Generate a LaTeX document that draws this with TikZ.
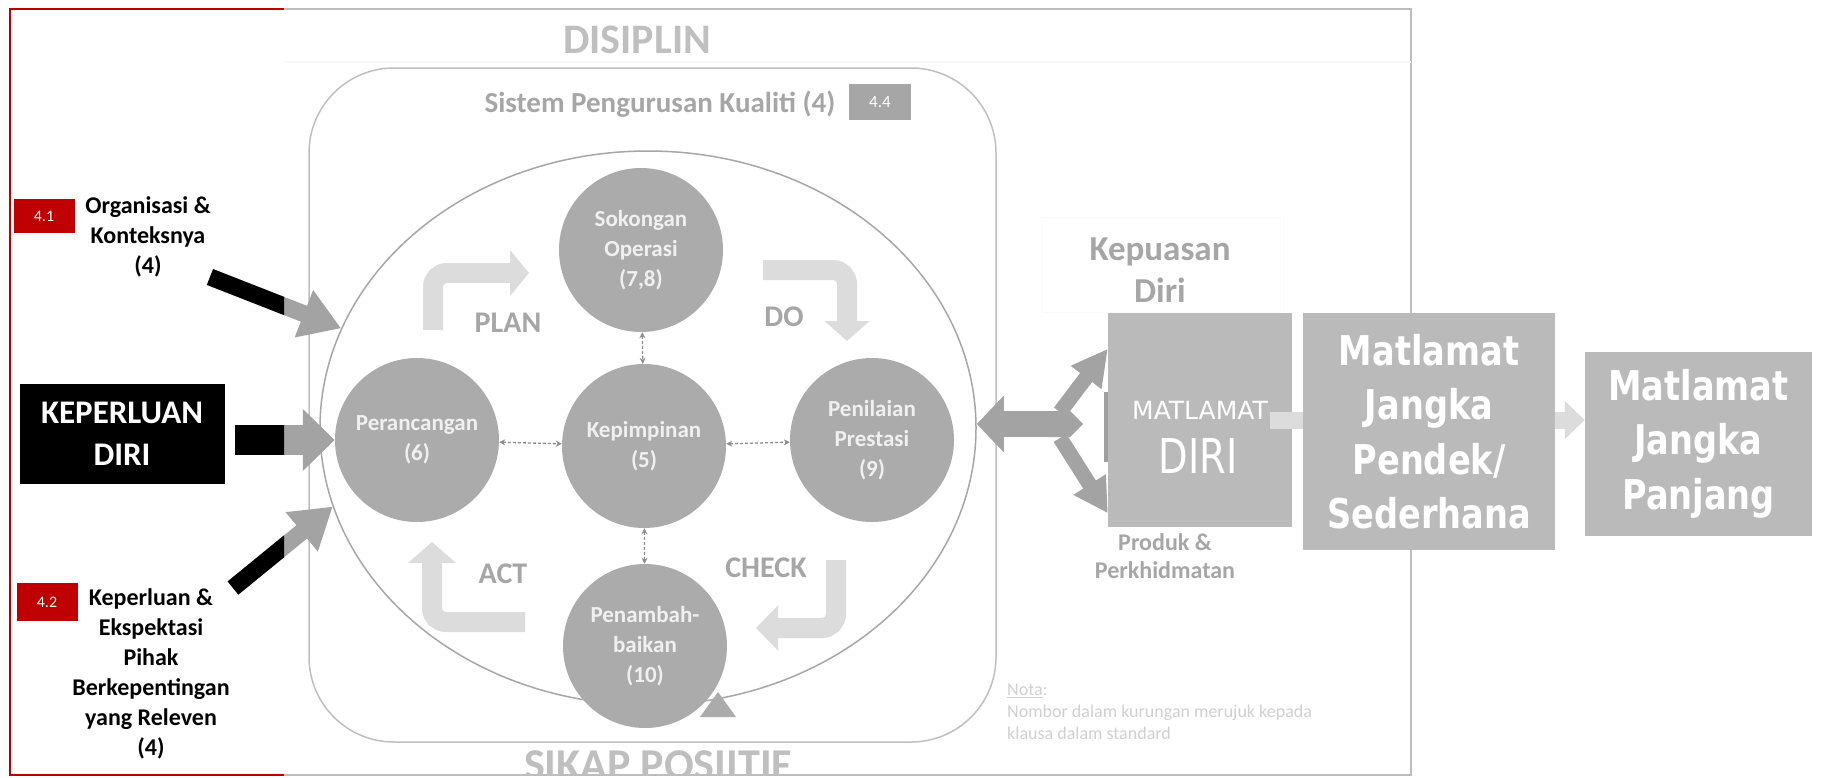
\documentclass[tikz,border=0pt]{standalone}
\usepackage{fontspec}
\setmainfont{Carlito}
\newfontfamily\dvs{DejaVu Sans}
\newfontfamily\dvsn[FakeStretch=0.8]{DejaVu Sans}
\newfontfamily\dvsb[FakeStretch=0.82]{DejaVu Sans}
\usetikzlibrary{arrows.meta,shapes.geometric,calc}
\definecolor{circg}{HTML}{ABABAB}
\definecolor{boxg}{HTML}{BABABA}
\definecolor{lightg}{HTML}{DCDCDC}
\definecolor{midg}{HTML}{A6A6A6}
\definecolor{paleg}{HTML}{BFBFBF}
\definecolor{frameg}{HTML}{BDBDBD}
\definecolor{redb}{HTML}{C00000}
\definecolor{arrg}{HTML}{A3A3A3}
\definecolor{notag}{HTML}{D0D0D0}
\definecolor{dashg}{HTML}{8C8C8C}
\begin{document}
\begin{tikzpicture}[x=1pt,y=-1pt,
  circ/.style={circle, fill=circg, minimum size=164, inner sep=0, text=white!94!black,
    font=\fontsize{23}{30}\selectfont\bfseries, align=center},
  dasharr/.style={densely dashed, draw=dashg, line width=1.3,
    {Stealth[length=6,width=6]}-{Stealth[length=6,width=6]}},
  pdca/.style={draw=lightg, line width=20, rounded corners=14},
  pdcalabel/.style={text=midg, font=\fontsize{30}{30}\selectfont\bfseries, inner sep=0},
  leftlabel/.style={align=center, font=\fontsize{24}{30}\selectfont\bfseries, inner sep=0},
  redtag/.style={fill=redb, text=white, inner sep=0, font=\fontsize{16}{16}\selectfont},
  bigbox/.style={fill=boxg, inner sep=0, text=white, align=center,
    font=\dvsb\bfseries\fontsize{41}{54.5}\selectfont},
  lightarr/.style={draw=lightg, line width=17},
  grayarr/.style={draw=arrg},
]
\useasboundingbox (0,0) rectangle (1826,777);
\fill[white] (0,0) rectangle (1826,777);

% frames
\draw[frameg, line width=2.5] (284,9) -- (1411,9) -- (1411,775) -- (284,775);
\draw[redb, line width=2.5] (284,9) -- (10,9) -- (10,775) -- (284,775);
\draw[gray!5, line width=1.5] (284,62) -- (1411,62);

% titles
\node[text=paleg, font=\fontsize{42}{42}\selectfont\bfseries, inner sep=0] (dis) at (637,40) {DISIPLIN};
\begin{scope}
\clip (0,0) rectangle (1826,774);
\node[text=paleg, font=\fontsize{44}{44}\selectfont\bfseries, inner sep=0, anchor=base] (skp) at (658,779) {SIKAP POSIITIF};
\end{scope}

% system box
\node[draw=paleg, line width=1.5, rounded corners=85, minimum width=687, minimum height=674, inner sep=0] (sys) at (652.5,405) {};
\node[text=midg, font=\fontsize{29}{29}\selectfont\bfseries, inner sep=0, anchor=base] (syst) at (660,112) {Sistem Pengurusan Kualiti (4)};
\node[fill=midg, text=white, minimum width=62, minimum height=36, inner sep=0, font=\fontsize{17}{17}\selectfont] (b44) at (880,102) {4.4};

% big ellipse
\node[ellipse, draw=midg, line width=1.5, minimum width=656, minimum height=554, inner sep=0] (ell) at (648,428) {};

% PDCA arrows
\coordinate (planS) at (433,330); \coordinate (planE) at (529,273);
\draw[pdca, -{Triangle[width=45,length=19]}] (planS) |- (planE);
\coordinate (doS) at (763,270); \coordinate (doE) at (847,341);
\draw[pdca, -{Triangle[width=44,length=20]}] (doS) -| (doE);
\coordinate (chS) at (836,560); \coordinate (chE) at (756,628);
\draw[pdca, -{Triangle[width=44,length=22]}] (chS) |- (chE);
\coordinate (acS) at (525,622); \coordinate (acE) at (432,542);
\draw[pdca, -{Triangle[width=47,length=21]}] (acS) -| (acE);

\node[pdcalabel] (plan) at (508,323) {PLAN};
\node[pdcalabel] (do) at (784,317) {DO};
\node[pdcalabel] (check) at (766,568) {CHECK};
\node[pdcalabel] (act) at (503,574) {ACT};

% circles
\node[circ] (sok) at (641,250) {Sokongan\\Operasi\\(7,8)};
\node[circ] (per) at (417,440) {Perancangan\\(6)};
\node[circ] (kpm) at (644,446) {Kepimpinan\\(5)};
\node[circ] (pen) at (872,440) {Penilaian\\Prestasi\\(9)};
\node[circ] (tam) at (645,646) {Penambah-\\baikan\\(10)};

\draw[dasharr] (per) -- (kpm);
\draw[dasharr] (kpm) -- (pen);
\draw[dasharr] (sok) -- (kpm);
\draw[dasharr] (kpm) -- (tam);

\fill[circg] (700,717) -- (718,692) -- (736,717) -- cycle;

% left panel
\node[redtag, minimum width=61, minimum height=34] (b41) at (44,216) {4.1};
\node[leftlabel] (org) at (148,237) {Organisasi \&\\Konteksnya\\(4)};
\node[redtag, minimum width=61, minimum height=38] (b42) at (47,602) {4.2};
\node[leftlabel] (kepx) at (151,674) {Keperluan \&\\Ekspektasi\\Pihak\\Berkepentingan\\yang Releven\\(4)};
\node[fill=black, text=white, minimum width=205, minimum height=100, inner sep=0, align=center,
  font=\fontsize{33}{42}\selectfont\bfseries] (kd) at (122,434) {KEPERLUAN\\DIRI};

\coordinate (a1) at (210,277);
\coordinate (a3) at (233,588);
\draw[grayarr, line width=17, -{Triangle[width=48,length=40]}] (a1) -- (ell.162);
\draw[grayarr, line width=30, -{Triangle[width=60,length=32]}, shorten <=10] (kd.east |- per.west) -- (per.west);
\draw[grayarr, line width=17, -{Triangle[width=48,length=40]}] (a3) -- (ell.194);
\begin{scope}
\clip (0,0) rectangle (284,777);
\draw[black, line width=17] (a1) -- (ell.162);
\draw[black, line width=30, shorten <=10] (kd.east |- per.west) -- (per.west);
\draw[black, line width=17] (a3) -- (ell.194);
\end{scope}

% right side
\draw[gray!4] (1042,217) rectangle (1280,312);
\node[text=midg, font=\fontsize{35}{42}\selectfont\bfseries, align=center, inner sep=0] (kpd) at (1160,270) {Kepuasan\\Diri};
\node[fill=boxg, minimum width=184, minimum height=214, inner sep=0] (md) at (1200,420) {};
\fill[gray!75] (1104,392) rectangle (1108,462);
\node[text=white, font=\dvs\fontsize{25}{25}\selectfont, inner sep=0] (mdt1) at (1200,410) {MATLAMAT};
\node[text=white, font=\dvsn\fontsize{48}{48}\selectfont, inner sep=0] (mdt2) at (1198,456) {DIRI};
\node[text=midg, font=\fontsize{24}{28}\selectfont\bfseries, align=center, inner sep=0] (prd) at (1165,556) {Produk \&\\Perkhidmatan};

\coordinate (junc) at (1062,424);
\fill[arrg] (1048,411) -- (1070,411) -- (1083,424) -- (1070,437) -- (1048,437) -- cycle;
\draw[grayarr, line width=26, -{Triangle[width=55,length=27]}] (junc) -- (junc -| ell.east);
\draw[grayarr, line width=15, -{Triangle[width=36,length=36]}] ($(junc)+(-2,-12)$) -- ($(md.north west)+(0,36)$);
\draw[grayarr, line width=15, -{Triangle[width=36,length=34]}] ($(junc)+(-2,14)$) -- ($(md.south west)+(0,-14)$);

\node[bigbox, minimum width=252, minimum height=237] (pdk) at (1429,431.5) {Matlamat\\Jangka\\Pendek/\\Sederhana};
\node[bigbox, minimum width=227, minimum height=184] (pjg) at (1698.5,443.5) {Matlamat\\Jangka\\Panjang};
\draw[lightarr] ($(md.east)+(-22,0)$) -- (pdk.west |- md.east);
\draw[lightarr, -{Triangle[width=37,length=20]}] (pdk.east |- md.east) -- (pjg.west |- md.east);

\node[text=notag, anchor=north west, align=left, inner sep=0, font=\fontsize{18}{22}\selectfont] (nota) at (1007,684) {\underline{Nota}:\\Nombor dalam kurungan merujuk kepada\\klausa dalam standard};
\end{tikzpicture}
\end{document}
